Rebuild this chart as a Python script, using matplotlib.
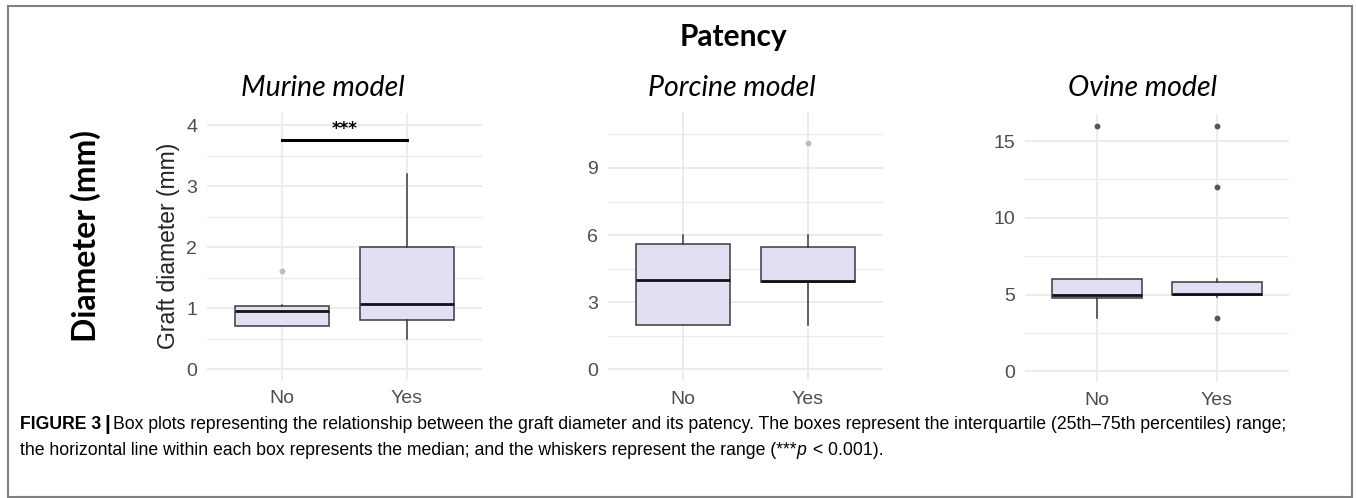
import matplotlib
matplotlib.use("Agg")
import matplotlib.pyplot as plt
from matplotlib.patches import Rectangle
from matplotlib.ticker import MultipleLocator

W, H = 1356, 498

groups = ["No", "Yes"]

# murine model (graft diameter, mm)
murine_q1 = [0.70, 0.80]
murine_med = [0.96, 1.06]
murine_q3 = [1.03, 2.00]
murine_lo = [0.70, 0.50]
murine_hi = [1.05, 3.20]
murine_out = [[1.6], []]

# porcine model
porcine_q1 = [2.0, 3.9]
porcine_med = [4.0, 3.97]
porcine_q3 = [5.6, 5.45]
porcine_lo = [2.0, 2.0]
porcine_hi = [6.0, 6.0]
porcine_out = [[], [10.1]]

# ovine model
ovine_q1 = [4.8, 5.0]
ovine_med = [5.0, 5.02]
ovine_q3 = [6.0, 5.8]
ovine_lo = [3.5, 4.85]
ovine_hi = [6.0, 6.0]
ovine_out = [[16.0], [16.0, 12.0, 3.5]]

panels = [
    dict(title="Murine model", q1=murine_q1, med=murine_med, q3=murine_q3,
         lo=murine_lo, hi=murine_hi, out=murine_out,
         box=(207, 482, 113, 380), ylim=(-0.18, 4.2), major=1, minor=0.5,
         flier="#bdbdbd", tx=323),
    dict(title="Porcine model", q1=porcine_q1, med=porcine_med, q3=porcine_q3,
         lo=porcine_lo, hi=porcine_hi, out=porcine_out,
         box=(608, 883, 112, 381), ylim=(-0.52, 11.5), major=3, minor=1.5,
         flier="#bdbdbd", tx=732),
    dict(title="Ovine model", q1=ovine_q1, med=ovine_med, q3=ovine_q3,
         lo=ovine_lo, hi=ovine_hi, out=ovine_out,
         box=(1025, 1289, 115, 382), ylim=(-0.7, 16.7), major=5, minor=2.5,
         flier="#555555", tx=1143),
]

fig = plt.figure(figsize=(W / 100, H / 100), dpi=100)

fill = "#e2def3"
edge = "#3a3a3a"
grid = "#ebebeb"

axes = []
for p in panels:
    x0, x1, y0, y1 = p["box"]
    ax = fig.add_axes([x0 / W, 1 - y1 / H, (x1 - x0) / W, (y1 - y0) / H])
    stats = []
    for i in range(2):
        stats.append(dict(q1=p["q1"][i], med=p["med"][i], q3=p["q3"][i],
                          whislo=p["lo"][i], whishi=p["hi"][i],
                          fliers=p["out"][i], label=groups[i]))
    ax.bxp(stats, positions=[1, 2], widths=0.75, patch_artist=True,
           showcaps=False,
           boxprops=dict(facecolor=fill, edgecolor=edge, linewidth=1.1),
           medianprops=dict(color="#111111", linewidth=2),
           whiskerprops=dict(color=edge, linewidth=1.1),
           flierprops=dict(marker="o", markersize=4.2,
                           markerfacecolor=p["flier"],
                           markeredgecolor="none"),
           zorder=3)
    ax.set_xlim(0.4, 2.6)
    ax.set_ylim(*p["ylim"])
    ax.yaxis.set_major_locator(MultipleLocator(p["major"]))
    ax.yaxis.set_minor_locator(MultipleLocator(p["minor"]))
    ax.grid(True, which="major", color=grid, linewidth=1.3, zorder=0)
    ax.grid(True, which="minor", axis="y", color=grid, linewidth=0.9, zorder=0)
    ax.set_axisbelow(True)
    for s in ax.spines.values():
        s.set_visible(False)
    ax.tick_params(which="both", length=0, colors="#4d4d4d", labelsize=14,
                   pad=7)
    for lab in ax.get_xticklabels() + ax.get_yticklabels():
        lab.set_fontfamily("Liberation Sans")
    fig.text(p["tx"] / W, 1 - 88 / H, p["title"], family="Lato",
             style="italic", fontsize=20.5, ha="center", va="center")
    axes.append(ax)

# significance bar on the murine panel
axes[0].plot([1, 2], [3.75, 3.75], color="black", linewidth=2.2, zorder=4)
axes[0].text(1.5, 3.79, "***", ha="center", va="bottom", fontsize=12,
             fontweight="bold", family="DejaVu Sans")

fig.text(168 / W, 1 - 246 / H, "Graft diameter (mm)", rotation=90,
         ha="center", va="center", fontsize=16.5, family="Liberation Sans",
         color="#222222")
fig.text(86 / W, 1 - 236 / H, "Diameter (mm)", rotation=90, ha="center",
         va="center", fontsize=23, family="Lato", fontweight="bold")
fig.text(733 / W, 1 - 37 / H, "Patency", ha="center", va="center",
         fontsize=21.5, family="Lato", fontweight="bold")

# caption, written piece by piece
fig.canvas.draw()
r = fig.canvas.get_renderer()
cap_size = 12.7


def piece(x, y, s, size=cap_size, **kw):
    t = fig.text(x / W, 1 - y / H, s, va="center", ha="left",
                 family="Liberation Sans", fontsize=size, **kw)
    bb = t.get_window_extent(renderer=r)
    return bb.x1


x = piece(20, 424, "FIGURE 3", fontweight="bold")
x = piece(x + 3, 424, "|", size=15, fontweight="bold")
piece(x + 3, 424, "Box plots representing the relationship between the graft "
      "diameter and its patency. The boxes represent the interquartile "
      "(25th\u201375th percentiles) range;")
x = piece(20, 450, "the horizontal line within each box represents the "
          "median; and the whiskers represent the range (***")
x = piece(x, 450, "p", style="italic")
piece(x + 2, 450, " < 0.001).")

fig.add_artist(Rectangle((8 / W, 0.002), (1352 - 8) / W, 1 - 6 / H - 0.002,
                         transform=fig.transFigure, fill=False,
                         edgecolor="#808080", linewidth=1.5))

fig.savefig("out.png", dpi=100)
